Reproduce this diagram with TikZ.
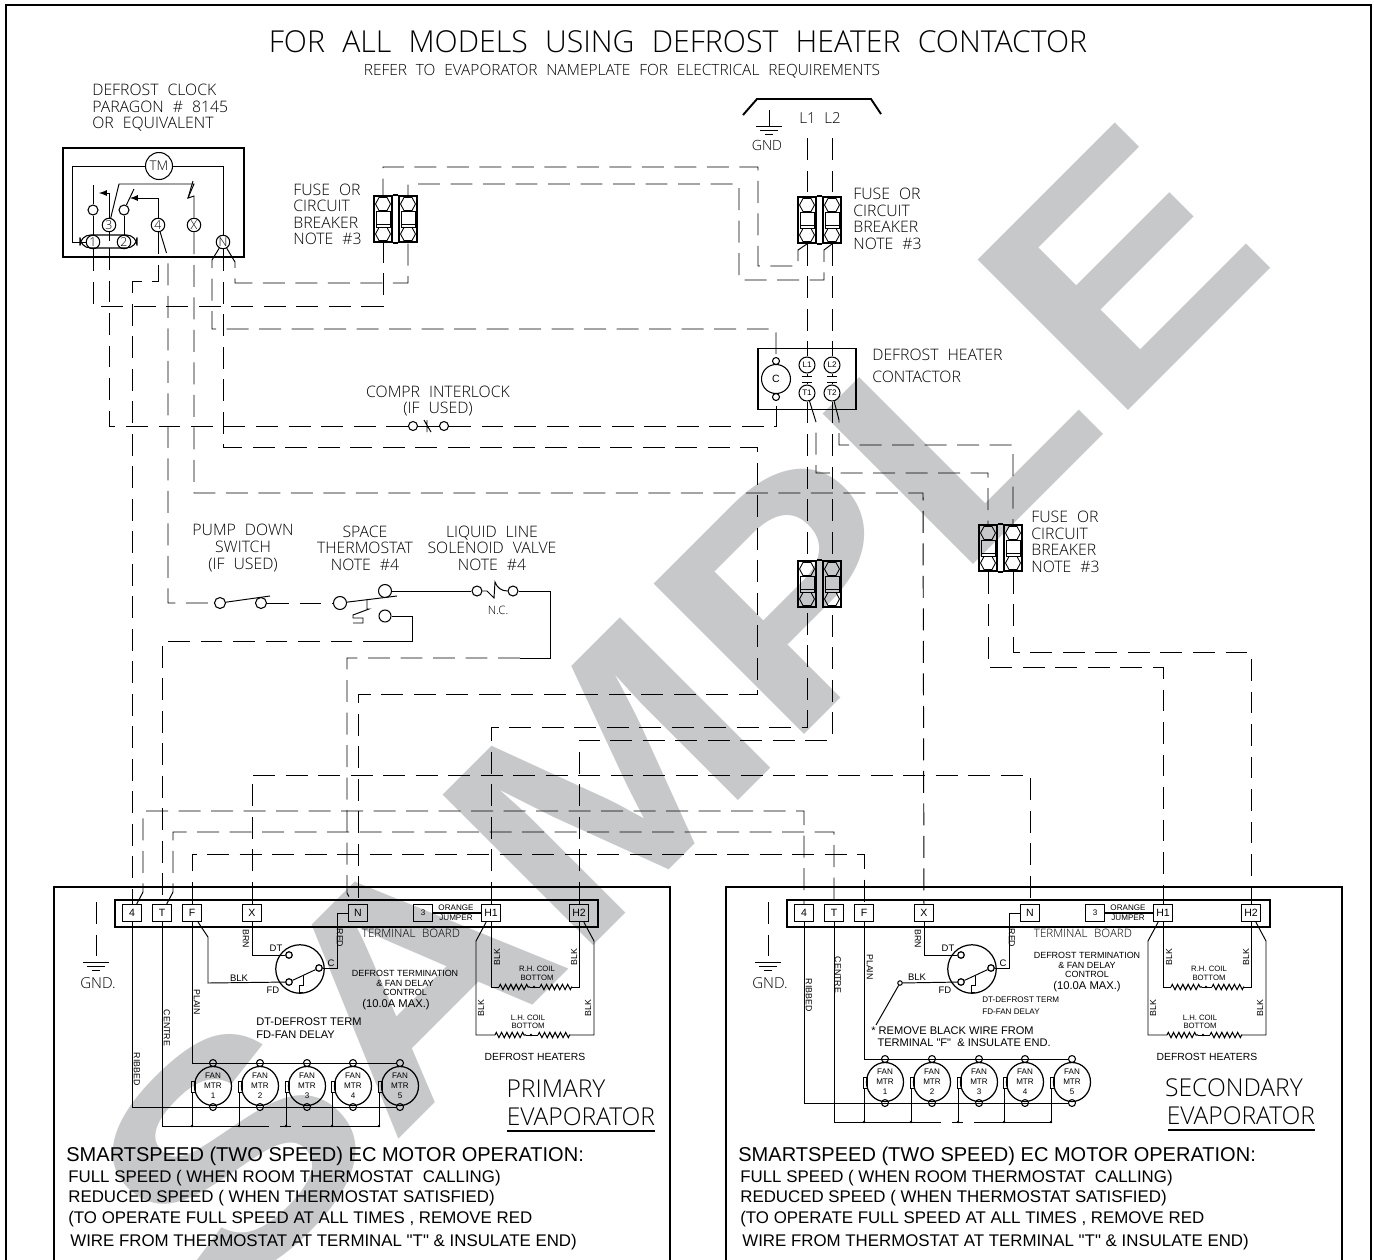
\documentclass[tikz,border=0pt]{standalone}
\usepackage{fontspec}
\setmainfont{Liberation Sans}[Ligatures=TeXOff]
\newfontfamily\cadfont[WordSpace=2.2]{Open Sans Light}
\usetikzlibrary{shapes.geometric,decorations.pathmorphing,arrows}

\definecolor{stampgrey}{HTML}{C7C8CA}

\tikzset{
  lbl/.style={inner sep=0pt,font=\cadfont\fontsize{9}{9.4}\selectfont},
  lblc/.style={lbl,align=center},
  lbll/.style={lbl,align=left,anchor=west},
  tiny/.style={inner sep=0pt,align=center,font=\fontsize{4.4}{4.9}\selectfont},
  wirelbl/.style={inner sep=0pt,font=\fontsize{5}{5}\selectfont},
  wire/.style={line width=0.55pt,dash pattern=on 12.5pt off 6pt},
  solid wire/.style={line width=0.55pt},
  box/.style={draw,line width=1.1pt},
  frame/.style={draw,line width=1.3pt},
  post/.style={circle,draw,line width=0.6pt,minimum size=0.27cm,inner sep=0pt,font=\cadfont\fontsize{7}{7}\selectfont},
  contact/.style={circle,draw,line width=0.6pt,inner sep=0pt,minimum size=0.2cm},
  bigcontact/.style={contact,minimum size=0.26cm},
  term/.style={draw,line width=0.7pt,minimum width=0.38cm,minimum height=0.34cm,inner sep=0pt,font=\fontsize{6}{6}\selectfont},
  motor/.style={ellipse,draw,line width=0.7pt,minimum width=0.74cm,minimum height=0.78cm,inner sep=0pt,align=center,font=\fontsize{4.6}{5.7}\selectfont},
  coil/.style={line width=0.6pt,decorate,decoration={zigzag,amplitude=1.5pt,segment length=3pt}},
  head/.style={inner sep=0pt,anchor=west,font=\fontsize{11.4}{12}\selectfont},
  body/.style={inner sep=0pt,anchor=west,font=\fontsize{9.6}{10}\selectfont},
  evap/.style={inner sep=0pt,font=\cadfont\fontsize{14}{15}\selectfont},
}

\newcommand{\fusecell}[2]{
  \node[box,minimum width=0.36cm,minimum height=0.92cm,inner sep=0pt] (#1) at (#2) {};
  \begin{scope}[shift={(#2)},line width=0.5pt]
    \foreach \s in {-15,15} {
      \draw (-7.5,\s) -- (-4,\s-6.5) -- (4,\s-6.5) -- (7.5,\s) -- (4,\s+6.5) -- (-4,\s+6.5) -- cycle;
    }
    \draw (-7,-8) rectangle (7,8);
    \draw (-7,5) -- (7,5);
  \end{scope}
}

\newcommand{\earth}[2]{
  \draw[solid wire] (#1-13,#2) -- (#1+13,#2) (#1-9,#2+4) -- (#1+9,#2+4) (#1-4,#2+8) -- (#1+4,#2+8);
}

% terminal board, defrost control, heaters and fans of one evaporator
\newcommand{\evapboard}[1]{
  \node[draw,line width=1.1pt,minimum width=9.66cm,minimum height=0.54cm,inner sep=0pt] (board) at (356.5,913.5) {};
  \node[term] (4) at (132,913) {4};
  \node[term] (T) at (162,913) {T};
  \node[term] (F) at (192,913) {F};
  \node[term] (X) at (252,913) {X};
  \node[term] (N) at (358,913) {N};
  \node[term,font=\fontsize{4.6}{5}\selectfont] (3) at (423,913) {3};
  \node[term] (H1) at (491,913) {H1};
  \node[term] (H2) at (579,913) {H2};
  \draw[line width=1pt] (3) -- (H1);
  \node[inner sep=0pt,font=\fontsize{4.6}{5}\selectfont] (jumpA) at (456,908) {ORANGE};
  \node[inner sep=0pt,font=\fontsize{4.6}{5}\selectfont] (jumpB) at (456,918) {JUMPER};
  \node[inner sep=0pt,font=\cadfont\fontsize{6.6}{7}\selectfont] (boardlbl) at (411,933) {TERMINAL BOARD};
  \node[circle,draw,line width=0.7pt,minimum size=0.97cm,inner sep=0pt] (dfc) at (300,969) {};
  \node[circle,draw,line width=0.7pt,minimum size=0.13cm,inner sep=0pt] (DT) at (289,955) {};
  \node[circle,draw,line width=0.7pt,minimum size=0.13cm,inner sep=0pt] (FD) at (289,982) {};
  \node[circle,draw,line width=0.7pt,minimum size=0.13cm,inner sep=0pt] (C) at (319,968) {};
  \draw[solid wire] (FD) -- (C);
  \draw[solid wire] (303,976) -- (303,985) -- (299,985) -- (299,992) -- (303,992);
  \draw[solid wire] (X) -- (252,955) -- (DT);
  \draw[solid wire] (N) -- (337,913) -- (337,968) -- (C);
  \node[wirelbl,font=\fontsize{5.4}{6}\selectfont] (lblDT) at (276,948) {DT};
  \node[wirelbl,font=\fontsize{5.4}{6}\selectfont] (lblC) at (331,963) {C};
  \node[wirelbl,font=\fontsize{5.4}{6}\selectfont] (lblFD) at (273,990) {FD};
  \node[wirelbl,rotate=-90] (lblBRN) at (246,939) {BRN};
  \node[wirelbl,rotate=-90] (lblRED) at (340,938) {RED};
  \draw[solid wire] (H1) -- (491,987) -- (499,987);
  \draw[coil] (499,987) -- (530,987);
  \draw[solid wire] (530,987) -- (540,987);
  \fill (534,987) circle (1.4);
  \draw[coil] (540,987) -- (572,987);
  \draw[solid wire] (572,987) -- (579,987) -- (H2);
  \draw[solid wire] (H1) -- (476,941) -- (476,1035) -- (495,1035);
  \draw[coil] (495,1035) -- (526,1035);
  \draw[solid wire] (526,1035) -- (538,1035);
  \fill (531,1035) circle (1.4);
  \draw[coil] (538,1035) -- (570,1035);
  \draw[solid wire] (570,1035) -- (594,1035) -- (594,941) -- (H2);
  \node[wirelbl,rotate=90] (blkA) at (497,957) {BLK};
  \node[wirelbl,rotate=90] (blkB) at (574,957) {BLK};
  \node[wirelbl,rotate=90] (blkC) at (481,1008) {BLK};
  \node[wirelbl,rotate=90] (blkD) at (588,1008) {BLK};
  \node[tiny] (rhcoil) at (537,973.5) {R.H. COIL\\BOTTOM};
  \node[tiny] (lhcoil) at (528,1022) {L.H. COIL\\BOTTOM};
  \node[inner sep=0pt,font=\fontsize{5.9}{6}\selectfont] (heaters) at (535,1057) {DEFROST HEATERS};
  \coordinate (gndtop) at (96,902);
  \draw[wire] (gndtop) -- (96,962);
  \earth{96}{962}
  \node[inner sep=0pt,font=\cadfont\fontsize{8.6}{9}\selectfont] (gndlbl) at (98,983) {GND.};
  \foreach \n/\x in {1/213,2/260,3/307,4/353,5/400} {
    \node[motor] (m\n) at (\x,#1) {FAN\\MTR\\\n};
    \node[contact,minimum size=0.14cm] (mt\n) at (\x,#1-23) {};
    \node[contact,minimum size=0.14cm] (mb\n) at (\x,#1+21) {};
    \draw[solid wire] (\x-22,#1-5) rectangle (\x-18,#1+6);
    \draw[solid wire] (\x-21,#1+6) -- (\x-21,#1+40);
    \fill (\x-21,#1+40) circle (1.4);
  }
  \draw[solid wire] (F) -- (192,#1-23) -- (mt5);
  \draw[solid wire] (4) -- (132,#1+21) -- (mb5);
  \draw[solid wire] (T) -- (162,#1+40) -- (269,#1+40);
  \draw[solid wire] (280,#1+40) -- (291,#1+40);
  \draw[solid wire] (302,#1+40) -- (380,#1+40);
  \node[head] (headline) at (66,1156) {SMARTSPEED (TWO SPEED) EC MOTOR OPERATION:};
  \node[body] (lineA) at (68,1178) {FULL SPEED ( WHEN ROOM THERMOSTAT\ \ CALLING)};
  \node[body] (lineB) at (68,1198) {REDUCED SPEED ( WHEN THERMOSTAT SATISFIED)};
  \node[body] (lineC) at (68,1219) {(TO OPERATE FULL SPEED AT ALL TIMES , REMOVE RED};
  \node[body] (lineD) at (70,1242) {WIRE FROM THERMOSTAT AT TERMINAL "T" \& INSULATE END)};
  \draw[frame,line width=1.4pt] (54,1262) -- (54,887) -- (670,887) -- (670,1262);
}

\begin{document}
\begin{tikzpicture}[x=0.02cm,y=-0.02cm]
\useasboundingbox (0,0) rectangle (1374,1259);

\node[rotate=45,inner sep=0pt,text=stampgrey] (stamp) at (677,711) {\fontspec[FakeStretch=1.16]{Liberation Sans Bold}\fontsize{176}{176}\selectfont SAMPLE};

\draw[frame,line width=1.5pt] (6,1262) -- (6,5) -- (1371,5) -- (1371,1262);

\node[inner sep=0pt,font=\cadfont\fontsize{17.2}{20}\selectfont] (title) at (678,42) {FOR ALL MODELS USING DEFROST HEATER CONTACTOR};
\node[inner sep=0pt,font=\cadfont\fontsize{8.8}{9}\selectfont] (subtitle) at (622,71) {REFER TO EVAPORATOR NAMEPLATE FOR ELECTRICAL REQUIREMENTS};
\node[lbll,align=left] (clocklbl) at (92,108) {DEFROST CLOCK\\PARAGON \# 8145\\OR EQUIVALENT};

% defrost clock
\node[box,minimum width=3.62cm,minimum height=2.18cm,inner sep=0pt] (clock) at (153.5,202.5) {};
\node[post,minimum size=0.54cm,font=\cadfont\fontsize{7.6}{8}\selectfont] (TM) at (159,166) {TM};
\node[post] (t1) at (93,242) {1};
\node[post] (t2) at (124,242) {2};
\node[post] (t3) at (109,225) {3};
\node[post] (t4) at (158,225) {4};
\node[post] (tX) at (194,225) {X};
\node[post] (tN) at (223,242) {N};
\node[contact] (ca) at (93,210) {};
\node[contact] (cb) at (124,210) {};
\draw[line width=0.6pt,rounded corners=6pt] (80,235) rectangle (137,248);
\coordinate (t3low) at (109,248);
\draw[solid wire] (TM) -- (72,166) -- (72,242) -- (t1);
\draw[solid wire] (TM) -- (223,166) -- (tN);
\draw[solid wire] (t1) -- (ca);
\draw[solid wire] (ca) -- (93,185);
\draw[solid wire] (t2) -- (cb);
\draw[solid wire] (t3) -- (109,241);
\draw[solid wire] (cb) -- (134,189);
\draw[solid wire,-latex] (t3) -- (109,193) -- (99,193);
\draw[solid wire,-latex] (t4) -- (158,198) -- (130,198);
\draw[solid wire] (t3) -- (119,184) -- (194,184) -- (188,198) -- (194,196) -- (tX);
\draw[solid wire] (193,181) -- (188,198);

% fuses
\fusecell{fuseA1}{383,219}
\fusecell{fuseA2}{408,219}
\fusecell{fuseB1}{807,220}
\fusecell{fuseB2}{832,220}
\fusecell{fuseC1}{807,584}
\fusecell{fuseC2}{832,584}
\fusecell{fuseD1}{988,548}
\fusecell{fuseD2}{1013,548}
\draw[line width=1.1pt] (fuseA1.north east) -- (fuseA2.north west) (fuseA1.south east) -- (fuseA2.south west);
\draw[line width=1.1pt] (fuseB1.north east) -- (fuseB2.north west) (fuseB1.south east) -- (fuseB2.south west);
\draw[line width=1.1pt] (fuseC1.north east) -- (fuseC2.north west);
\draw[line width=1.1pt] (fuseD1.north east) -- (fuseD2.north west) (fuseD1.south east) -- (fuseD2.south west);
\node[lbll] (fuselblA) at (293,214.5) {FUSE OR\\CIRCUIT\\BREAKER\\NOTE \#3};
\node[lbll] (fuselblB) at (853,219) {FUSE OR\\CIRCUIT\\BREAKER\\NOTE \#3};
\node[lbll] (fuselblD) at (1031,542) {FUSE OR\\CIRCUIT\\BREAKER\\NOTE \#3};

% supply
\draw[line width=1.1pt] (743,115) -- (757,99) -- (871,99) -- (881,114);
\node[inner sep=0pt,font=\cadfont\fontsize{8.6}{9}\selectfont] (supply) at (820,118) {L1 L2};
\coordinate (gndtop) at (769,110);
\coordinate (supL1) at (807,138);
\coordinate (supL2) at (832,138);
\draw[wire] (gndtop) -- (769,126);
\earth{769}{126}
\node[inner sep=0pt,font=\cadfont\fontsize{8}{9}\selectfont] (gndlbl) at (767,145) {GND};

% contactor
\node[box,minimum width=1.96cm,minimum height=1.22cm,inner sep=0pt] (contactor) at (807,379) {};
\node[post,minimum size=0.58cm,font=\fontsize{6}{6}\selectfont] (coil) at (776,379) {C};
\node[contact,minimum size=0.14cm] (coilT) at (776,361) {};
\node[contact,minimum size=0.14cm] (coilB) at (776,397) {};
\node[post,minimum size=0.32cm,font=\fontsize{4.6}{5}\selectfont] (L1) at (807,365) {L1};
\node[post,minimum size=0.32cm,font=\fontsize{4.6}{5}\selectfont] (L2) at (832,365) {L2};
\node[post,minimum size=0.32cm,font=\fontsize{4.6}{5}\selectfont] (T1) at (807,393) {T1};
\node[post,minimum size=0.32cm,font=\fontsize{4.6}{5}\selectfont] (T2) at (832,393) {T2};
\draw[solid wire] (L1) -- (807,376) (802,376) -- (812,376) (802,382) -- (812,382) (807,382) -- (T1);
\draw[solid wire] (L2) -- (832,376) (827,376) -- (837,376) (827,382) -- (837,382) (832,382) -- (T2);
\node[lbll] (contactlblA) at (872,355) {DEFROST HEATER};
\node[lbll] (contactlblB) at (872,377) {CONTACTOR};

% interlock
\node[contact,minimum size=0.18cm] (lockA) at (413,426) {};
\node[contact,minimum size=0.18cm] (lockB) at (444,426) {};
\draw[solid wire] (lockA) -- (lockB);
\draw[solid wire] (427,420) -- (427,432) (424,420) -- (431,432);
\node[lblc] (locklbl) at (438,401) {COMPR INTERLOCK\\(IF USED)};

% control circuit
\node[contact,minimum size=0.22cm] (pumpA) at (220,603) {};
\node[contact,minimum size=0.22cm] (pumpB) at (261,603) {};
\draw[solid wire] (pumpA) -- (270,596);
\node[lblc] (pumplbl) at (243,548) {PUMP DOWN\\SWITCH\\(IF USED)};
\node[bigcontact] (statA) at (340,603) {};
\node[bigcontact] (statB) at (385,591) {};
\node[bigcontact,minimum size=0.24cm] (statC) at (385,616) {};
\draw[solid wire] (statA) -- (397,596);
\draw[solid wire] (367,600) -- (367,609) -- (369,609) -- (353,615) -- (353,618) -- (363,618) -- (363,623) -- (353,623);
\node[lblc] (statlbl) at (365,548) {SPACE\\THERMOSTAT\\NOTE \#4};
\node[contact] (valveA) at (477,591) {};
\node[contact] (valveB) at (513,591) {};
\draw[solid wire] (valveA) -- (487,591) -- (494,598) -- (495,582) to[out=-70,in=180] (valveB);
\node[lblc] (valvelbl) at (492,548) {LIQUID LINE\\SOLENOID VALVE\\NOTE \#4};
\node[inner sep=0pt,font=\cadfont\fontsize{6.6}{7}\selectfont] (nclbl) at (498,610) {N.C.};

% primary evaporator
\begin{scope}[name prefix=p-]
  \evapboard{1086}
  \draw[solid wire] (F) -- (208,937) -- (208,983) -- (FD);
  \node[wirelbl,font=\fontsize{5.4}{6}\selectfont] (lblBLK) at (239,978) {BLK};
  \node[wirelbl,rotate=-90] (lblPLAIN) at (197,1002) {PLAIN};
  \node[wirelbl,rotate=-90] (lblCENTRE) at (167,1028) {CENTRE};
  \node[wirelbl,rotate=-90] (lblRIBBED) at (137,1069) {RIBBED};
  \node[inner sep=0pt,align=center,font=\fontsize{5.1}{5.6}\selectfont] (ctrlA) at (405,983) {DEFROST TERMINATION\\\& FAN DELAY\\CONTROL};
  \node[inner sep=0pt,font=\fontsize{6.4}{7}\selectfont] (ctrlB) at (396,1005) {(10.0A MAX.)};
  \node[inner sep=0pt,anchor=west,align=left,font=\fontsize{6.3}{7.2}\selectfont] (legend) at (256,1028) {DT-DEFROST TERM\\FD-FAN DELAY};
  \node[evap] (evapA) at (556,1089) {PRIMARY};
  \node[evap] (evapB) at (581,1117) {EVAPORATOR};
  \coordinate (ruleA) at (507,1131);
  \coordinate (ruleB) at (655,1131);
  \draw[line width=1.5pt] (ruleA) -- (ruleB);
\end{scope}

% secondary evaporator
\begin{scope}[shift={(672,0)},name prefix=s-]
  \evapboard{1082}
  \node[contact,minimum size=0.09cm] (openend) at (228,983) {};
  \draw[solid wire] (openend) -- (FD);
  \draw[solid wire] (openend) -- (204,1025);
  \node[wirelbl,font=\fontsize{5.4}{6}\selectfont] (lblBLK) at (245,977) {BLK};
  \node[wirelbl,rotate=-90] (lblPLAIN) at (198,967) {PLAIN};
  \node[wirelbl,rotate=-90] (lblCENTRE) at (166,975) {CENTRE};
  \node[wirelbl,rotate=-90] (lblRIBBED) at (137,995) {RIBBED};
  \node[inner sep=0pt,align=center,font=\fontsize{5.1}{5.6}\selectfont] (ctrlA) at (415,965) {DEFROST TERMINATION\\\& FAN DELAY\\CONTROL};
  \node[inner sep=0pt,font=\fontsize{6.4}{7}\selectfont] (ctrlB) at (415,987) {(10.0A MAX.)};
  \node[inner sep=0pt,anchor=west,align=left,font=\fontsize{4.6}{6.8}\selectfont] (legend) at (310,1006) {DT-DEFROST TERM\\FD-FAN DELAY};
  \node[inner sep=0pt,anchor=west,align=left,font=\fontsize{6.3}{7}\selectfont] (note) at (199,1037) {* REMOVE BLACK WIRE FROM\\\ \ TERMINAL "F"\ \ \& INSULATE END.};
  \node[evap] (evapA) at (562,1088) {SECONDARY};
  \node[evap] (evapB) at (569,1116) {EVAPORATOR};
  \coordinate (ruleA) at (496,1130);
  \coordinate (ruleB) at (643,1130);
  \draw[line width=1.5pt] (ruleA) -- (ruleB);
\end{scope}

% wiring
\draw[wire] (t1) -- (93,306) -- (383,306) -- (fuseA1.south);
\draw[wire] (t3low) -- (109,426) -- (lockA);
\draw[wire] (lockB) -- (776,426) -- (coilB);
\draw[wire] (tN) -- (223,447) -- (757,447) -- (757,694) -- (358,694) -- (p-N);
\draw[wire] (tN) -- (212,260) -- (212,329) -- (776,329) -- (coilT);
\draw[wire] (tN) -- (235,262) -- (235,283) -- (408,283) -- (fuseA2.south);
\draw[wire] (t4) -- (158,281) -- (132,281) -- (p-4);
\draw[wire] (t4) -- (168,258) -- (168,603) -- (pumpA);
\draw[wire] (pumpB) -- (statA);
\draw[wire] (tX) -- (194,493) -- (923,493) -- (s-X);
\draw[solid wire] (statB) -- (valveA);
\draw[solid wire] (valveB) -- (550,591) -- (550,658) -- (520,658);
\draw[wire] (520,658) -- (347,658) -- (347,893) -- (p-N);
\draw[solid wire] (statC) -- (412,616) -- (412,641) -- (385,641);
\draw[wire] (385,641) -- (162,641) -- (p-T);
\draw[wire] (p-X) -- (252,775) -- (1030,775) -- (s-N);
\draw[wire] (p-4) -- (143,892) -- (143,811) -- (804,811) -- (s-4);
\draw[wire] (p-T) -- (173,892) -- (173,832) -- (834,832) -- (s-T);
\draw[wire] (p-F) -- (192,854) -- (864,854) -- (s-F);
\draw[wire] (p-H1) -- (491,727) -- (807,727) -- (fuseC1.south);
\draw[wire] (p-H2) -- (579,740) -- (832,740) -- (fuseC2.south);
\draw[wire] (supL1) -- (fuseB1.north);
\draw[wire] (supL2) -- (fuseB2.north);
\draw[wire] (fuseB1.south) -- (L1);
\draw[wire] (fuseB2.south) -- (L2);
\draw[wire] (fuseB1.south) -- (798,250) -- (798,266) -- (758,266) -- (758,167) -- (383,167) -- (fuseA1.north);
\draw[wire] (fuseB2.south) -- (824,250) -- (824,280) -- (739,280) -- (739,184) -- (408,184) -- (fuseA2.north);
\draw[wire] (T1) -- (fuseC1.north);
\draw[wire] (T2) -- (fuseC2.north);
\draw[wire] (T1) -- (816,422) -- (816,473) -- (988,473) -- (fuseD1.north);
\draw[wire] (T2) -- (839,420) -- (839,445) -- (1013,445) -- (fuseD2.north);
\draw[wire] (fuseD1.south) -- (988,667) -- (1163,667) -- (s-H1);
\draw[wire] (fuseD2.south) -- (1013,652) -- (1251,652) -- (s-H2);
\end{tikzpicture}
\end{document}
